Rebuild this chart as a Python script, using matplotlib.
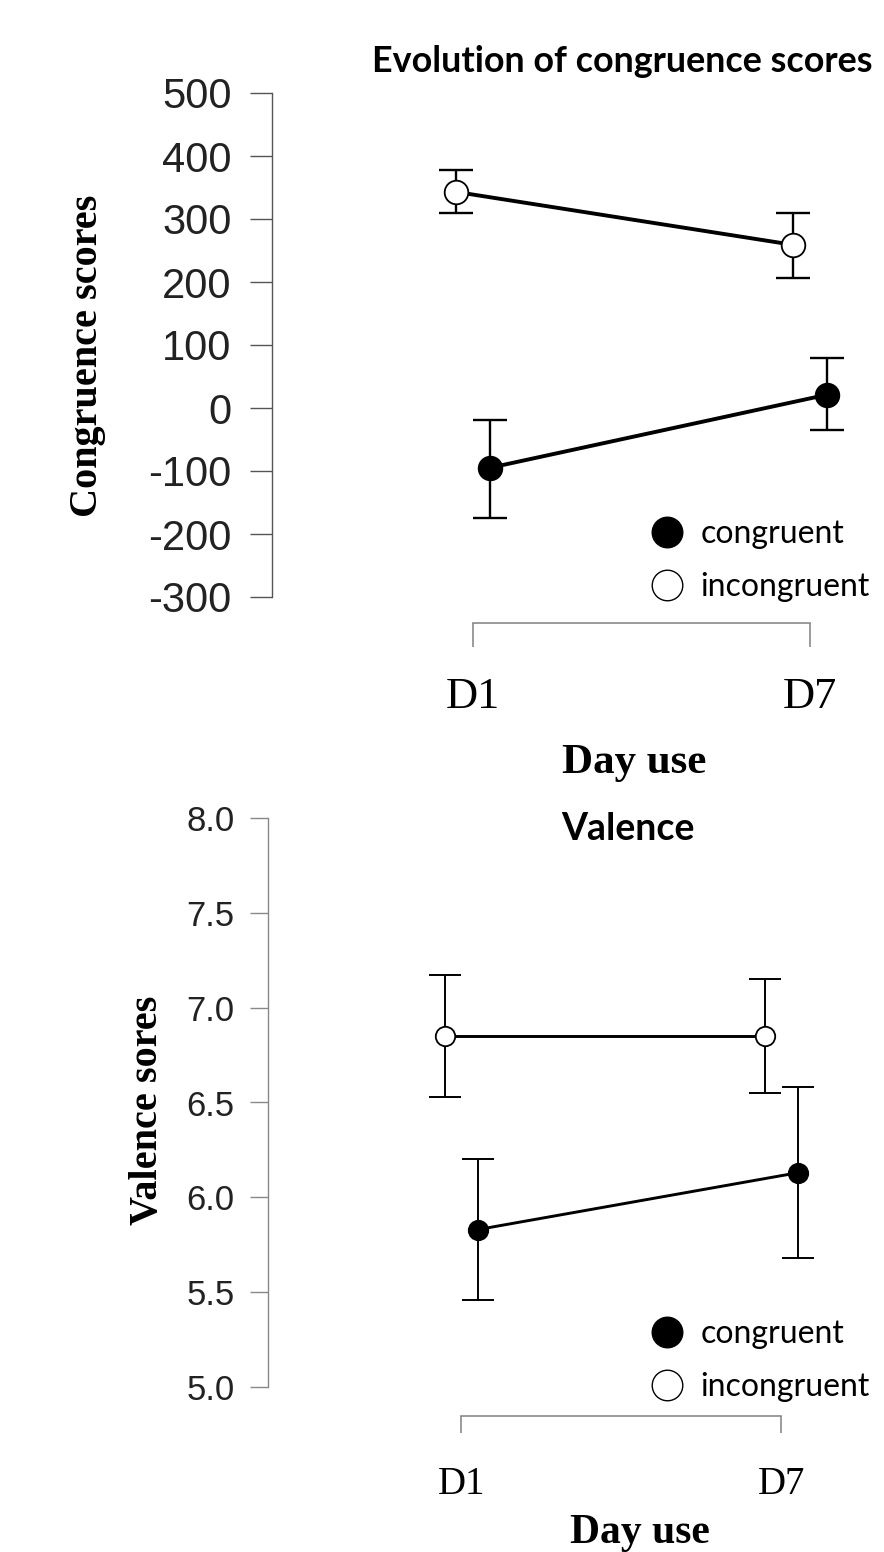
import numpy as np
import matplotlib
matplotlib.use("Agg")
import matplotlib.pyplot as plt
from matplotlib.lines import Line2D

W, H = 884, 1552

days = ["D1", "D7"]
groups = ["congruent", "incongruent"]

# congruence scores: means and error-bar ends
cong_mean = [-95, 21]
cong_low = [-174, -35]
cong_high = [-19, 80]
incong_mean = [343, 259]
incong_low = [310, 207]
incong_high = [377, 310]

# valence scores
val_cong_mean = [5.83, 6.13]
val_cong_low = [5.46, 5.68]
val_cong_high = [6.20, 6.58]
val_incong_mean = [6.85, 6.85]
val_incong_low = [6.53, 6.55]
val_incong_high = [7.17, 7.15]

score_ticks = [-300, -200, -100, 0, 100, 200, 300, 400, 500]
valence_ticks = [5.0, 5.5, 6.0, 6.5, 7.0, 7.5, 8.0]

SERIF = "Liberation Serif"
SANS = "Liberation Sans"
LATO = "Lato"


def px_box(left, right, top, bottom):
    return [left / W, 1 - bottom / H, (right - left) / W, (bottom - top) / H]


def ftext(fig, x, y, s, **kw):
    fig.text(x / W, 1 - y / H, s, **kw)


def draw_panel(ax, mean_c, lo_c, hi_c, mean_i, lo_i, hi_i, dodge, ms, lw, elw, cap,
               spine_col, tick_len, tick_pad, tick_size, bracket_out, bracket_len, lab_pad, lab_size):
    x = np.arange(len(days))
    for mean, lo, hi, off, face in [(mean_i, lo_i, hi_i, -dodge, "white"),
                                    (mean_c, lo_c, hi_c, dodge, "black")]:
        mean = np.array(mean)
        yerr = [mean - np.array(lo), np.array(hi) - mean]
        ax.errorbar(x + off, mean, yerr=yerr, fmt="none", ecolor="black",
                    elinewidth=elw, capsize=cap, capthick=elw, zorder=2)
        ax.plot(x + off, mean, color="black", lw=lw, marker="o", ms=ms,
                mfc=face, mec="black", mew=1.3, zorder=3)

    for s in ["top", "right"]:
        ax.spines[s].set_visible(False)
    ax.spines["left"].set_color(spine_col)
    ax.spines["left"].set_linewidth(1.0)
    ax.spines["bottom"].set_position(("outward", bracket_out))
    ax.spines["bottom"].set_bounds(0, 1)
    ax.spines["bottom"].set_color("#8a8a8a")
    ax.spines["bottom"].set_linewidth(1.2)
    ax.set_xticks([0, 1])
    ax.set_xticklabels(days, family=SERIF, fontsize=lab_size)
    ax.tick_params(axis="x", length=bracket_len, width=1.2, color="#8a8a8a", pad=lab_pad)
    ax.tick_params(axis="y", length=tick_len, width=1.0, color=spine_col,
                   pad=tick_pad, labelsize=tick_size)
    for t in ax.get_yticklabels():
        t.set_family(SANS)
        t.set_color("#222222")
    ax.patch.set_alpha(0)


fig = plt.figure(figsize=(W / 100, H / 100), dpi=100)

# ---- top panel: congruence scores
ax1 = fig.add_axes(px_box(272, 884, 93, 597))
ax1.set_xlim(-0.596, 1.22)
ax1.set_ylim(-300, 500)
ax1.set_yticks(score_ticks)
ax1.set_yticklabels([str(t) for t in score_ticks])
draw_panel(ax1, cong_mean, cong_low, cong_high, incong_mean, incong_low, incong_high,
           dodge=0.05, ms=17, lw=2.8, elw=1.7, cap=12, spine_col="#555555",
           tick_len=16, tick_pad=13, tick_size=30, bracket_out=18.5, bracket_len=17,
           lab_pad=22, lab_size=32)

# ---- bottom panel: valence
ax2 = fig.add_axes(px_box(268, 884, 818, 1387))
ax2.set_xlim(-0.603, 1.32)
ax2.set_ylim(5.0, 8.0)
ax2.set_yticks(valence_ticks)
ax2.set_yticklabels([f"{t:.1f}" for t in valence_ticks])
draw_panel(ax2, val_cong_mean, val_cong_low, val_cong_high,
           val_incong_mean, val_incong_low, val_incong_high,
           dodge=0.052, ms=14, lw=2.1, elw=1.4, cap=11.5, spine_col="#888888",
           tick_len=13, tick_pad=11, tick_size=25, bracket_out=21, bracket_len=12,
           lab_pad=24, lab_size=28)

# legends
handles = [Line2D([], [], ls="none", marker="o", ms=22, mfc="black", mec="black"),
           Line2D([], [], ls="none", marker="o", ms=22, mfc="white", mec="black", mew=1.0)]
for ax, y0 in [(ax1, 519), (ax2, 1319)]:
    ax.legend(handles, groups, loc="upper left", bbox_to_anchor=(648 / W, 1 - y0 / H),
              bbox_transform=fig.transFigure, frameon=False, handlelength=1.2,
              handletextpad=0.45, labelspacing=0.72, borderpad=0, borderaxespad=0,
              prop={"family": LATO, "size": 23})

# titles and axis labels
ftext(fig, 372, 62, "Evolution of congruence scores", family=LATO, weight="bold",
      fontsize=25.8, ha="left", va="center")
ftext(fig, 628, 829, "Valence", family=LATO, weight="bold", fontsize=27,
      ha="center", va="center")
ftext(fig, 88, 356, "Congruence scores", family=SERIF, weight="bold", fontsize=29,
      rotation=90, ha="center", va="center")
ftext(fig, 147, 1110, "Valence sores", family=SERIF, weight="bold", fontsize=29,
      rotation=90, ha="center", va="center")
ftext(fig, 634, 763, "Day use", family=SERIF, weight="bold", fontsize=31,
      ha="center", va="center")
ftext(fig, 640, 1533, "Day use", family=SERIF, weight="bold", fontsize=30,
      ha="center", va="center")

fig.savefig("out.png", dpi=100)
